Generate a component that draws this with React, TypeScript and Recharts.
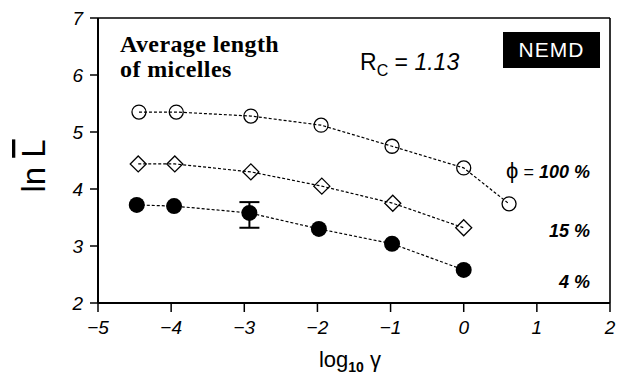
import React from 'react';
import {
  ScatterChart, Scatter, XAxis, YAxis, ReferenceLine, ErrorBar,
} from 'recharts';

// log10 gamma values and ln L for each volume fraction
const gamma100 = [-4.44, -3.93, -2.91, -1.95, -0.98, 0, 0.62];
const lnL100 = [5.35, 5.35, 5.28, 5.12, 4.75, 4.37, 3.74];

const gamma15 = [-4.45, -3.95, -2.91, -1.94, -0.97, 0];
const lnL15 = [4.44, 4.44, 4.3, 4.05, 3.75, 3.32];

const gamma4 = [-4.47, -3.96, -2.93, -1.98, -0.98, 0];
const lnL4 = [3.72, 3.7, 3.58, 3.3, 3.04, 2.58];
// only the -3 point carries an error bar: [below, above]
const err4 = [null, null, [0.26, 0.19], null, null, null];

const xTicks = [-5, -4, -3, -2, -1, 0, 1, 2];
const yTicks = [2, 3, 4, 5, 6, 7];

const data100 = gamma100.map((x, i) => ({ x, y: lnL100[i] }));
const data15 = gamma15.map((x, i) => ({ x, y: lnL15[i] }));
const data4 = gamma4.map((x, i) => ({ x, y: lnL4[i], err: err4[i] }));

const SANS = '"Liberation Sans", Arial, sans-serif';
const SERIF = '"Liberation Serif", "Times New Roman", serif';

const dashed = { stroke: '#000', strokeWidth: 1.2, strokeDasharray: '3 2', fill: 'none' };

const OpenCircle = (props: any) => (
  <circle cx={props.cx} cy={props.cy} r={7} fill="none" stroke="#000" strokeWidth={1.3} />
);

const Diamond = (props: any) => {
  const { cx, cy } = props;
  const s = 8;
  return (
    <path
      d={`M${cx},${cy - s}L${cx + s},${cy}L${cx},${cy + s}L${cx - s},${cy}Z`}
      fill="none"
      stroke="#000"
      strokeWidth={1.3}
    />
  );
};

const FilledCircle = (props: any) => (
  <circle cx={props.cx} cy={props.cy} r={8} fill="#000" />
);

const fmt = (v: number) => String(v).replace('-', '\u2212');

const tickStyle = { fill: '#000', fontSize: 19, fontStyle: 'italic', fontFamily: SANS };

export default function App() {
  return (
    <div style={{ position: 'absolute', left: 0, top: 0, width: 618, height: 381, background: '#fff' }}>
      <ScatterChart width={618} height={381} margin={{ top: 18, right: 8, bottom: 0, left: 0 }}>
        <XAxis
          type="number"
          dataKey="x"
          domain={[-5, 2]}
          ticks={xTicks}
          height={78}
          tickSize={9}
          tickMargin={9}
          tickFormatter={fmt}
          tick={tickStyle}
          axisLine={{ stroke: '#000', strokeWidth: 2 }}
          tickLine={{ stroke: '#000', strokeWidth: 1.5 }}
        />
        <YAxis
          type="number"
          dataKey="y"
          domain={[2, 7]}
          ticks={yTicks}
          width={98}
          tickSize={8}
          tickMargin={7}
          tick={tickStyle}
          axisLine={{ stroke: '#000', strokeWidth: 2 }}
          tickLine={{ stroke: '#000', strokeWidth: 1.5 }}
        />
        <ReferenceLine y={7} stroke="#000" strokeWidth={1.6} />
        <ReferenceLine x={2} stroke="#000" strokeWidth={1.6} />
        <Scatter data={data100} line={dashed} shape={<OpenCircle />} isAnimationActive={false} />
        <Scatter data={data15} line={dashed} shape={<Diamond />} isAnimationActive={false} />
        <Scatter data={data4} line={dashed} shape={<FilledCircle />} isAnimationActive={false}>
          <ErrorBar dataKey="err" direction="y" width={10} stroke="#000" strokeWidth={2} />
        </Scatter>
      </ScatterChart>

      <svg width={618} height={381} style={{ position: 'absolute', left: 0, top: 0, pointerEvents: 'none' }}>
        <text x={120} y={52} fontFamily={SERIF} fontWeight="bold" fontSize={24} letterSpacing={0.4}>Average length</text>
        <text x={120} y={77} fontFamily={SERIF} fontWeight="bold" fontSize={24} letterSpacing={0.4}>of micelles</text>

        <text x={360} y={70} fontFamily={SANS} fontSize={23}>
          R<tspan fontSize={16} dy={6}>C</tspan>
          <tspan dy={-6}> = </tspan>
          <tspan fontStyle="italic">1.13</tspan>
        </text>

        <rect x={503} y={32} width={97} height={36} fill="#000" />
        <text x={551.5} y={57} textAnchor="middle" fill="#fff" fontFamily={SANS} fontSize={21} letterSpacing={1}>NEMD</text>

        <text x={590} y={178} textAnchor="end" fontFamily={SANS} fontSize={18}>
          <tspan fontSize={22}>ϕ</tspan>
          <tspan> = </tspan>
          <tspan fontWeight="bold" fontStyle="italic">100 %</tspan>
        </text>
        <text x={590} y={237} textAnchor="end" fontFamily={SANS} fontSize={18} fontWeight="bold" fontStyle="italic">15 %</text>
        <text x={590} y={288} textAnchor="end" fontFamily={SANS} fontSize={18} fontWeight="bold" fontStyle="italic">4 %</text>

        <text
          x={45}
          y={166}
          transform="rotate(-90 45 166)"
          textAnchor="middle"
          fontFamily={SANS}
          fontSize={33}
        >
          ln <tspan style={{ textDecoration: 'overline' }}>L</tspan>
        </text>

        <text x={350} y={367} textAnchor="middle" fontFamily={SANS} fontSize={22}>
          log<tspan fontSize={14} fontWeight="bold" dy={5}>10</tspan>
          <tspan dy={-5}> γ</tspan>
        </text>
      </svg>
    </div>
  );
}
